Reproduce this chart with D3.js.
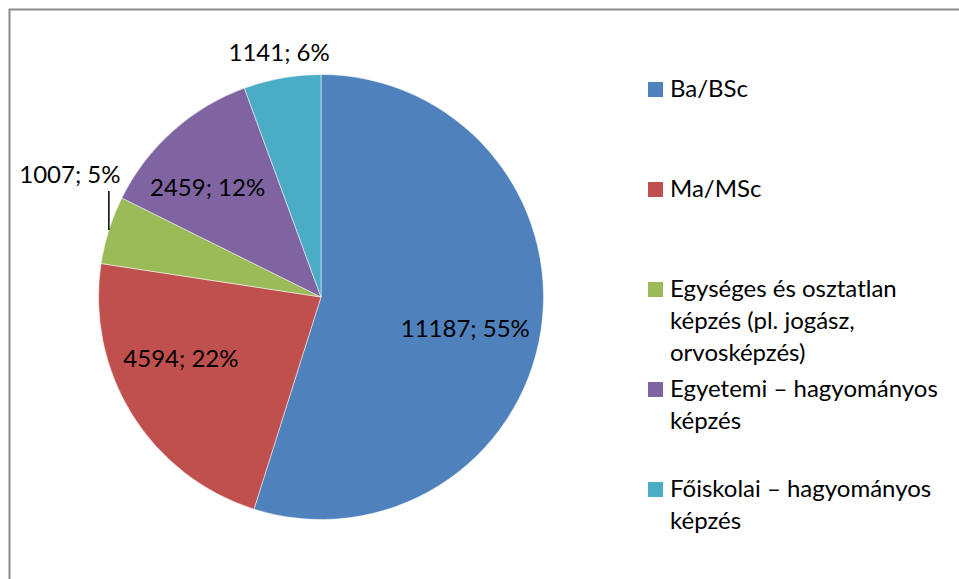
<!DOCTYPE html>
<html>
<head>
<meta charset="utf-8">
<script src="https://d3js.org/d3.v7.min.js"></script>
<style>
  body { margin: 0; background: #fff; }
  text { font-family: Lato, "Open Sans", sans-serif; fill: #000; }
</style>
</head>
<body>
<div id="chart"></div>
<script>
// categories and values
var categories = ["Ba/BSc", "Ma/MSc", "Egységes és osztatlan képzés (pl. jogász, orvosképzés)",
                  "Egyetemi – hagyományos képzés", "Főiskolai – hagyományos képzés"];
var legendLines = [["Ba/BSc"], ["Ma/MSc"],
                   ["Egységes és osztatlan", "képzés (pl. jogász,", "orvosképzés)"],
                   ["Egyetemi – hagyományos", "képzés"],
                   ["Főiskolai – hagyományos", "képzés"]];
var values = [11187, 4594, 1007, 2459, 1141];
var percents = [55, 22, 5, 12, 6];   // as printed on the chart
var colors = ["#4F81BD", "#C0504D", "#9BBB59", "#8064A2", "#4BACC6"];

var width = 959, height = 579;
var cx = 321, cy = 297, radius = 222.5;
var fontSize = "24px";

var svg = d3.select("#chart").append("svg")
    .attr("width", width)
    .attr("height", height);

// outer border of the chart area
svg.append("rect")
    .attr("x", 9.5).attr("y", 9.5)
    .attr("width", width + 20).attr("height", height + 20)
    .attr("fill", "none")
    .attr("stroke", "#8c8c8c")
    .attr("stroke-width", 2);

var pie = d3.pie().sort(null).value(function(d) { return d; });
var arcs = pie(values);
var arc = d3.arc().innerRadius(0).outerRadius(radius);

var g = svg.append("g").attr("transform", "translate(" + cx + "," + cy + ")");

g.selectAll("path")
  .data(arcs)
  .enter()
  .append("path")
    .attr("d", arc)
    .attr("fill", function(d, i) { return colors[i]; })
    .attr("stroke", "#fff")
    .attr("stroke-width", 0.5);

function labelText(d) {
  return d.data + "; " + percents[d.index] + "%";
}
function polar(a, r) { return [r * Math.sin(a), -r * Math.cos(a)]; }
function mid(d) { return (d.startAngle + d.endAngle) / 2; }

// inside labels (radius, extra nudge for excel-like placement)
var inside = [{i: 0, r: 146, dy: 18}, {i: 1, r: 165, dy: -17}, {i: 3, r: 170, dy: 26}];
inside.forEach(function(o) {
  var d = arcs[o.i], p = polar(mid(d), o.r);
  g.append("text")
    .attr("x", p[0]).attr("y", p[1] + o.dy)
    .attr("text-anchor", "middle")
    .style("font-size", fontSize)
    .text(labelText(d));
});

// outside label: Főiskolai
var pc = polar(mid(arcs[4]), radius + 17);
g.append("text")
  .attr("x", pc[0]).attr("y", pc[1])
  .attr("text-anchor", "middle")
  .style("font-size", fontSize)
  .text(labelText(arcs[4]));

// outside label with leader line: Egységes
var pe = polar(mid(arcs[2]), radius);
g.append("line")
  .attr("x1", pe[0]).attr("y1", pe[1])
  .attr("x2", pe[0]).attr("y2", pe[1] - 39)
  .attr("stroke", "#000").attr("stroke-width", 1.5);
g.append("text")
  .attr("x", pe[0] - 39).attr("y", pe[1] - 47)
  .attr("text-anchor", "middle")
  .style("font-size", fontSize)
  .text(labelText(arcs[2]));

// legend
var legend = svg.append("g").attr("transform", "translate(648,82)");
var item = legend.selectAll("g")
  .data(categories)
  .enter()
  .append("g")
    .attr("transform", function(d, i) { return "translate(0," + (i * 100) + ")"; });

item.append("rect")
  .attr("width", 15).attr("height", 15)
  .attr("fill", function(d, i) { return colors[i]; });

item.append("text")
  .attr("x", 22).attr("y", 15)
  .style("font-size", fontSize)
  .selectAll("tspan")
  .data(function(d, i) { return legendLines[i]; })
  .enter()
  .append("tspan")
    .attr("x", 22)
    .attr("dy", function(d, j) { return j === 0 ? 0 : 32; })
    .text(function(d) { return d; });
</script>
</body>
</html>
